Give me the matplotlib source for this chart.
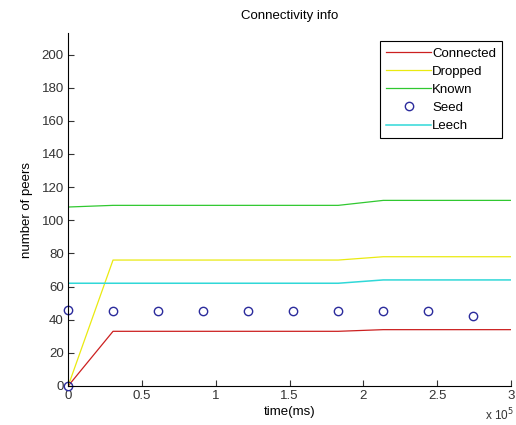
import numpy as np
from matplotlib import pyplot as plt

plt.rcParams['font.family'] = ['Liberation Sans', 'DejaVu Sans']

#   sample times in ms (the two first ones are both at the start)
t = np.array([0, 100, 30500, 61000, 91500, 122000, 152500,
              183000, 213500, 244000, 274500, 305000])

connected = [0, 0, 33, 33, 33, 33, 33, 33, 34, 34, 34, 34]
dropped = [0, 0, 76, 76, 76, 76, 76, 76, 78, 78, 78, 78]
known = [0, 108, 109, 109, 109, 109, 109, 109, 112, 112, 112, 112]
leech = [0, 62, 62, 62, 62, 62, 62, 62, 64, 64, 64, 64]

#   seed is only shown as markers
t_seed = t[:11]
seed = [0, 46, 45, 45, 45, 45, 45, 45, 45, 45, 42]

xticks = [0, 50000, 100000, 150000, 200000, 250000, 300000]
xtick_labels = ['0', '0.5', '1', '1.5', '2', '2.5', '3']
yticks = [0, 20, 40, 60, 80, 100, 120, 140, 160, 180, 200]

fig = plt.figure(figsize=(5.16, 4.25), dpi=100)
ax = fig.add_axes([68/516, 39/425, 443/516, 353/425])

ax.plot(t, connected, color='#cc2020', lw=0.9, label='Connected')
ax.plot(t, dropped, color='#eaea10', lw=0.9, label='Dropped')
ax.plot(t, known, color='#30c830', lw=0.9, label='Known')
ax.plot(t_seed, seed, 'o', color='#2b2b9c', mfc='none', ms=6, mew=1.0,
        label='Seed', clip_on=False)
ax.plot(t, leech, color='#30d8d8', lw=1.1, label='Leech')

ax.set_xlim(0, 300000)
ax.set_ylim(0, 213)
ax.set_xticks(xticks)
ax.set_xticklabels(xtick_labels)
ax.set_yticks(yticks)
ax.tick_params(direction='in', length=4, labelsize=9.5, colors='#333333',
               labelcolor='#333333', pad=3)
ax.spines['top'].set_visible(False)
ax.spines['right'].set_visible(False)

ax.set_title('Connectivity info', fontsize=9.5, pad=10)
ax.set_xlabel('time(ms)', fontsize=9.5, labelpad=3)
ax.set_ylabel('number of peers', fontsize=9.5, labelpad=6)

fig.text(0.94, 0.012, r'x 10$^5$', fontsize=8.5, color='#333333')

leg = ax.legend(loc='upper right', bbox_to_anchor=(0.995, 0.995), fontsize=9.5,
                fancybox=False, edgecolor='black', framealpha=1,
                handlelength=3.4, handletextpad=0.1, labelspacing=0.45,
                borderpad=0.45)
leg.get_frame().set_linewidth(0.8)

plt.savefig('out.png', dpi=100)
